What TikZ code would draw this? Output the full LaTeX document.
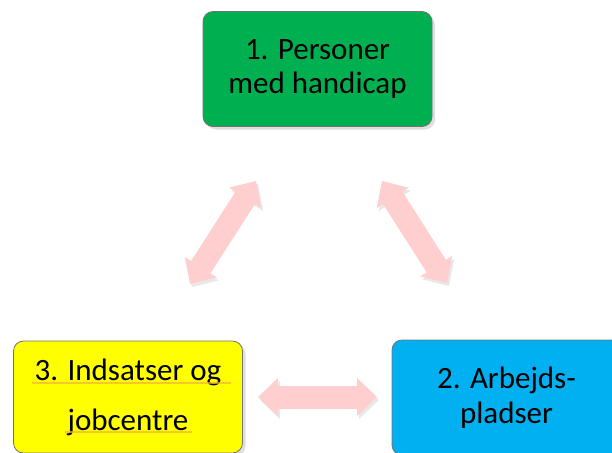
\documentclass[tikz,border=0pt]{standalone}
\usepackage{fontspec}
\setmainfont{Carlito}
\usetikzlibrary{arrows.meta,shadows}
\definecolor{boxgreen}{RGB}{0,176,80}
\definecolor{boxyellow}{RGB}{255,255,0}
\definecolor{boxblue}{RGB}{0,176,240}
\definecolor{arrowpink}{RGB}{255,206,206}
\definecolor{squiggle}{RGB}{246,178,60}
\tikzset{
  box/.style={draw=black!55, line width=.8pt, rounded corners=10pt,
    minimum width=229pt, align=center,
    font=\fontsize{31}{33.5}\selectfont,
    drop shadow={shadow xshift=3pt, shadow yshift=-3pt, opacity=.25}},
  twoway/.style={line width=23pt, draw=arrowpink,
    {Triangle[width=38pt,length=20pt,line width=0pt]}-{Triangle[width=38pt,length=20pt,line width=0pt]},
    preaction={draw=black!30, opacity=.3, transform canvas={shift={(2pt,-3pt)}}}}
}
\begin{document}
\begin{tikzpicture}[x=1pt,y=1pt]
\useasboundingbox (0,0) rectangle (612,-452);
\node[box, fill=boxgreen, minimum height=115pt] (personer) at (317.5,-69) {1. Personer\\med handicap};
\node[box, fill=boxblue, minimum height=115pt, font=\fontsize{31}{35}\selectfont] (arbejde) at (506.5,-397.5) {2. Arbejds-\\pladser};
\node[box, fill=boxyellow, minimum height=112pt, font=\fontsize{31}{50}\selectfont] (indsats) at (128,-397) {3. Indsatser og\\jobcentre};
\draw[squiggle, line width=1.2pt, opacity=.7] (32,-383) -- (231,-383);
\draw[squiggle, line width=1.2pt, opacity=.7] (65,-432) -- (192,-432);
\coordinate (p1) at (256,-181);
\coordinate (i1) at (190,-284);
\coordinate (p2) at (382,-181);
\coordinate (a2) at (447,-283);
\coordinate (i3) at (258,-397);
\coordinate (a3) at (377,-397);
\draw[twoway] (p1) -- (i1);
\draw[twoway] (p2) -- (a2);
\draw[twoway] (i3) -- (a3);
\end{tikzpicture}
\end{document}
